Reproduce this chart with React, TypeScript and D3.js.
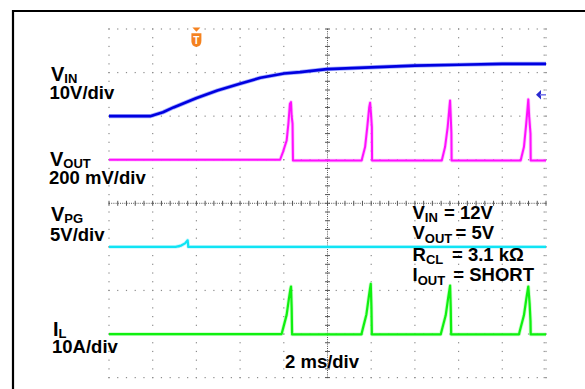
import React from "react";
import * as d3 from "d3";

const W = 585;
const H = 389;

// ---------- data read from the scope capture ----------
// time in ms (2 ms/div, 10 divisions)
const timeDomainMs: [number, number] = [0, 20];
const vertDomainDiv: [number, number] = [-4, 4];

// VIN (V), 10 V/div, ground at +2 div
const vinTrace: [number, number][] = [
  [0, 0], [1.88, 0], [2.47, 0.9], [2.95, 2.0], [3.98, 4.1], [4.96, 5.9], [5.95, 7.4],
  [6.93, 8.8], [8.01, 9.8], [8.74, 10.1], [9.98, 10.8], [11.97, 11.2], [14.0, 11.6],
  [16.02, 11.8], [18.0, 12.0], [20, 12.0],
];
// VOUT deviation (mV), 200 mV/div, reference at +1 div
const voutTrace: [number, number][] = [
  [0, 0], [7.83, 0], [7.96, 35], [8.13, 88], [8.21, 166], [8.28, 257], [8.33, 265], [8.36, 200], [8.40, 166], [8.42, -4],
  [11.56, -4], [11.72, 58], [11.82, 150], [11.91, 241], [11.95, 262], [11.99, 212], [12.03, 150], [12.04, -4],
  [15.23, -4], [15.38, 58], [15.50, 150], [15.58, 241], [15.61, 272], [15.64, 200], [15.67, 120], [15.68, -4],
  [18.84, -4], [18.99, 58], [19.08, 150], [19.16, 241], [19.19, 277], [19.23, 200], [19.29, 120], [19.30, -4],
  [20, -4],
];
// VPG (V), 5 V/div, ground at -1 div
const vpgTrace: [number, number][] = [
  [0, 0], [3.05, 0], [3.30, 0.15], [3.48, 0.4], [3.60, 0.75], [3.63, 0], [20, 0],
];
// IL (A), 10 A/div, zero at -3 div
const ilTrace: [number, number][] = [
  [0, 0], [7.90, 0], [8.01, 2.1], [8.13, 4.4], [8.24, 8.3], [8.30, 10.2], [8.33, 10.9], [8.36, 6.0], [8.38, -0.1],
  [11.55, -0.1], [11.66, 2.1], [11.78, 4.5], [11.89, 8.5], [11.95, 10.6], [11.98, 11.5], [12.01, 6.2], [12.03, -0.1],
  [15.18, -0.1], [15.29, 2.0], [15.41, 4.3], [15.52, 8.2], [15.58, 10.1], [15.61, 11.1], [15.64, 6.0], [15.66, -0.1],
  [18.76, -0.1], [18.87, 2.0], [18.99, 4.3], [19.10, 8.1], [19.16, 10.0], [19.19, 10.9], [19.25, 7.0], [19.29, 3.0], [19.30, -0.1],
  [20, -0.1],
];

const channelNames = ["VIN", "VOUT", "VPG", "IL"];
const channelPositionDiv = [2.0, 1.0, -1.0, -3.0];
const channelUnitsPerDiv = [10, 200, 5, 10];
const channelTraces = [vinTrace, voutTrace, vpgTrace, ilTrace];

const labelMain = ["V", "V", "V", "I"];
const labelSub = ["IN", "OUT", "PG", "L"];
const labelScale = ["10V/div", "200 mV/div", "5V/div", "10A/div"];

const condMain = ["V", "V", "R", "I"];
const condSub = ["IN", "OUT", "CL", "OUT"];
const condValue = ["= 12V", "= 5V", "= 3.1 k\u03A9", "= SHORT"];

const timebaseLabel = "2 ms/div";
const triggerTimeMs = 4;
const triggerLevelV = 4.9;

// ---------- styling ----------
const FONT = "'Liberation Sans', Arial, Helvetica, sans-serif";
const traceColors = ["#0000e0", "#ff10ff", "#10e4f4", "#10f010"];
const haloColors = ["#4a5cff", "#ff90ff", "#90f4ff", "#90ff90"];
const traceWidths = [2.6, 2.0, 2.2, 2.2];

export default function App() {
  const x = d3.scaleLinear().domain([0, 10]).range([109, 546]);
  const y = d3.scaleLinear().domain(vertDomainDiv).range([377.6, 29]);
  const tx = d3.scaleLinear().domain(timeDomainMs).range([109, 546]);

  const divX = d3.range(0, 11);
  const divY = d3.range(-4, 5);
  const minorX = d3.range(0, 50.01, 1).map((i) => i / 5);
  const minorY = d3.range(-20, 20.01, 1).map((i) => i / 5);

  const dots: { x: number; y: number }[] = [];
  divX.forEach((i) => {
    if (i === 5) return;
    minorY.forEach((j) => dots.push({ x: x(i), y: y(j) }));
  });
  divY.forEach((j) => {
    if (j === 0) return;
    minorX.forEach((i) => dots.push({ x: x(i), y: y(j) }));
  });

  const lines = channelTraces.map((trace, c) => {
    const gen = d3
      .line<[number, number]>()
      .x((d) => tx(d[0]))
      .y((d) => y(channelPositionDiv[c] + d[1] / channelUnitsPerDiv[c]));
    return gen(trace) || "";
  });

  const trigX = tx(triggerTimeMs);
  const trigLevelY = y(channelPositionDiv[0] + triggerLevelV / channelUnitsPerDiv[0]);

  const leftMainPos = [
    { x: 51, y: 80.7 }, { x: 50, y: 165.7 }, { x: 51, y: 220.7 }, { x: 53, y: 335.7 },
  ];
  const leftScalePos = [
    { x: 49.5, y: 98.8 }, { x: 49, y: 183.8 }, { x: 50, y: 241 }, { x: 52, y: 352.8 },
  ];
  const condBaseY = [218.5, 239.3, 260.5, 281.3];
  const condValueX = [444, 455.5, 452, 453.3];

  return (
    <svg
      width={W}
      height={H}
      style={{ position: "absolute", left: 0, top: 0, background: "#fff" }}
      fontFamily={FONT}
    >
      <rect x={0} y={0} width={W} height={H} fill="#fff" />
      {/* outer frame */}
      <line x1={13} y1={11} x2={W} y2={11} stroke="#000" strokeWidth={2.2} />
      <line x1={13} y1={10} x2={13} y2={H} stroke="#000" strokeWidth={2.2} />

      {/* grid dots */}
      <g fill="#8c8c8c">
        {dots.map((d, k) => (
          <rect key={k} x={d.x - 0.6} y={d.y - 0.6} width={1.2} height={1.2} />
        ))}
        {minorY.map((j, k) => (
          <rect key={"r" + k} x={x(10) - 2.4} y={y(j) - 0.6} width={1.2} height={1.2} />
        ))}
      </g>
      {/* center cross with ticks */}
      <g stroke="#555" strokeWidth={1}>
        <line x1={x(5)} x2={x(5)} y1={y(4)} y2={y(-4)} strokeDasharray="1,1.2" />
        <line x1={x(0)} x2={x(10)} y1={y(0)} y2={y(0)} strokeDasharray="1,1.2" />
        {minorY.map((j, k) => (
          <line key={"ty" + k} x1={x(5) - 2.5} x2={x(5) + 2.5} y1={y(j)} y2={y(j)} />
        ))}
        {minorX.map((i, k) => (
          <line key={"tx" + k} x1={x(i)} x2={x(i)} y1={y(0) - 2.5} y2={y(0) + 2.5} />
        ))}
      </g>

      {/* traces */}
      {lines.map((p, c) => (
        <g key={channelNames[c]}>
          <path d={p} fill="none" stroke={haloColors[c]} strokeWidth={traceWidths[c] + 1.6} strokeOpacity={0.5} strokeLinejoin="round" />
          <path d={p} fill="none" stroke={traceColors[c]} strokeWidth={traceWidths[c]} strokeLinejoin="round" />
        </g>
      ))}

      {/* trigger position marker */}
      <g fill="#f5821f">
        <path d={`M${trigX - 4},27.5 H${trigX + 4} L${trigX},31.8 Z`} />
        <path d={`M${trigX - 5},33.3 H${trigX + 5} V41 Q${trigX + 5},46.3 ${trigX},47 Q${trigX - 5},46.3 ${trigX - 5},41 Z`} />
      </g>
      <text x={trigX} y={44} fontSize={10} fontWeight="bold" fill="#fff" textAnchor="middle">T</text>

      {/* trigger level marker */}
      <g fill="#2a2ad0" stroke="none">
        <path d={`M536,${trigLevelY} L541,${trigLevelY - 4.8} V${trigLevelY + 4.8} Z`} />
        <rect x={540} y={trigLevelY - 0.8} width={6} height={1.6} fill="#7a7ae8" />
      </g>

      {/* channel labels */}
      <g fontWeight="bold" fill="#000">
        {labelMain.map((m, i) => (
          <text key={"lm" + i} x={leftMainPos[i].x} y={leftMainPos[i].y} fontSize={20}>
            {m}
            <tspan fontSize={13} dy={2.5}>{labelSub[i]}</tspan>
          </text>
        ))}
        {labelScale.map((s, i) => (
          <text key={"ls" + i} x={leftScalePos[i].x} y={leftScalePos[i].y} fontSize={18.5}>
            {s}
          </text>
        ))}
        {condMain.map((m, i) => (
          <text key={"c" + i} x={412.5} y={condBaseY[i]} fontSize={18.5}>
            {m}
            <tspan fontSize={13} dy={3.5}>{condSub[i]}</tspan>
          </text>
        ))}
        {condValue.map((v, i) => (
          <text key={"cv" + i} x={condValueX[i]} y={condBaseY[i]} fontSize={18.5}>
            {v}
          </text>
        ))}
        <text x={285} y={368.3} fontSize={18.5}>{timebaseLabel}</text>
      </g>
    </svg>
  );
}
